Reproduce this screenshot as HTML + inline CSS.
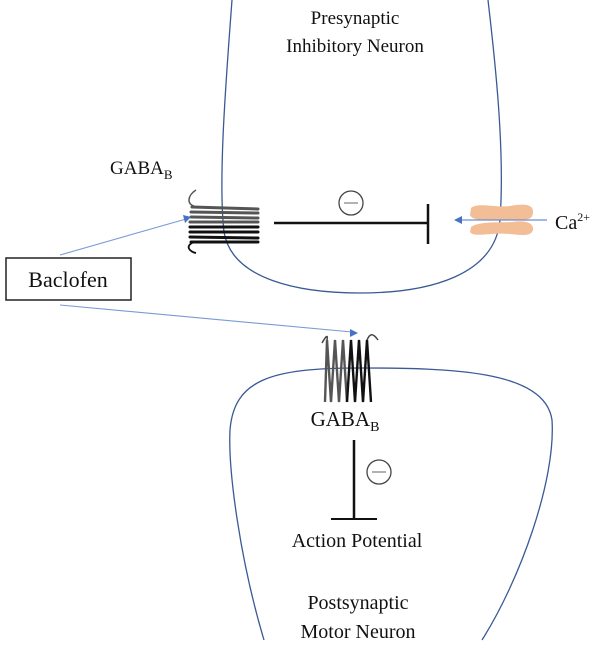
<!DOCTYPE html>
<html><head><style>body{margin:0;background:#fff}svg{display:block}text{font-family:"Liberation Serif",serif;fill:#111}</style></head><body>
<svg width="606" height="648" viewBox="0 0 606 648" xmlns="http://www.w3.org/2000/svg">
<g fill="none" stroke="#3a5a95" stroke-width="1.3">
<path d="M232 0 C226 80 218 180 224 232 C232 280 300 293 360 293 C430 293 495 275 500 220 C505 150 495 60 488 0"/>
<path d="M264 640 C240 560 228 470 230 430 C234 380 270 368 360 368 C450 368 545 370 552 420 C556 480 520 580 482 640"/>
</g>
<text x="355" y="24" font-size="19" text-anchor="middle">Presynaptic</text>
<text x="355" y="52" font-size="19" text-anchor="middle">Inhibitory Neuron</text>
<text x="110" y="174" font-size="19">GABA<tspan font-size="13" dy="5">B</tspan></text>
<g stroke-width="3" stroke-linecap="round">
<path stroke="#555" d="M192 207 L258 209 M191 212 L258 213 M191 217 L258 218 M190 222 L258 222"/>
<path stroke="#111" d="M190 227 L258 227 M190 232 L258 232 M190 237 L258 238 M191 242 L258 242"/>
</g>
<path d="M197 207 C185 205 188 195 196 190" stroke="#555" fill="none" stroke-width="1.5"/>
<path d="M194 242 C184 246 190 252 196 253" stroke="#111" fill="none" stroke-width="1.8"/>
<line x1="274" y1="223" x2="428" y2="223" stroke="#111" stroke-width="2.5"/>
<line x1="428" y1="204" x2="428" y2="244" stroke="#111" stroke-width="2.5"/>
<circle cx="351" cy="203" r="12" fill="none" stroke="#444" stroke-width="1.3"/>
<line x1="344" y1="203" x2="358" y2="203" stroke="#666" stroke-width="1"/>
<g fill="#f3be96">
<path d="M471 208 C478 202 495 208 510 206 C526 203 534 205 533 213 C532 220 528 220 510 220 C490 220 473 222 470 215Z"/>
<path d="M471 227 C480 221 500 223 512 222 C526 220 534 223 533 230 C531 237 520 235 510 234 C490 232 474 238 470 232Z"/>
</g>
<line x1="547" y1="220" x2="460" y2="220" stroke="#6e8fcf" stroke-width="1.2"/>
<path d="M454 220 L462 216 L462 224Z" fill="#4a72c4"/>
<text x="555" y="229" font-size="20">Ca<tspan font-size="12" dy="-8">2+</tspan></text>
<rect x="6" y="258" width="125" height="42" fill="#fff" stroke="#222" stroke-width="1.5"/>
<text x="68" y="287" font-size="22" text-anchor="middle">Baclofen</text>
<g stroke="#7b9ad4" stroke-width="1.1">
<line x1="60" y1="255" x2="186" y2="219"/>
<line x1="60" y1="305" x2="352" y2="332"/>
</g>
<path d="M191 217 L183 215 L185 223Z" fill="#4a72c4"/>
<path d="M358 333 L350 329 L350 337Z" fill="#4a72c4"/>
<g stroke-width="2.4" fill="none">
<path stroke="#555" d="M325 402 L327 340 L331 402 L335 340 L339 402 L343 340 L347 402"/>
<path stroke="#111" d="M347 402 L351 340 L355 402 L359 340 L363 402 L367 340 L371 402"/>
</g>
<path d="M322 343 C326 336 328 334 327 340" stroke="#444" fill="none" stroke-width="1.5"/>
<path d="M367 340 C370 333 373 333 378 340" stroke="#444" fill="none" stroke-width="1.5"/>
<text x="345" y="426" font-size="21" text-anchor="middle">GABA<tspan font-size="14" dy="5">B</tspan></text>
<line x1="354" y1="440" x2="354" y2="519" stroke="#111" stroke-width="2.5"/>
<line x1="331" y1="519" x2="377" y2="519" stroke="#111" stroke-width="2"/>
<circle cx="379" cy="472" r="12" fill="none" stroke="#444" stroke-width="1.3"/>
<line x1="372" y1="472" x2="386" y2="472" stroke="#666" stroke-width="1"/>
<text x="357" y="547" font-size="20" text-anchor="middle">Action Potential</text>
<text x="358" y="609" font-size="20" text-anchor="middle">Postsynaptic</text>
<text x="358" y="638" font-size="20" text-anchor="middle">Motor Neuron</text>
</svg>
</body></html>
